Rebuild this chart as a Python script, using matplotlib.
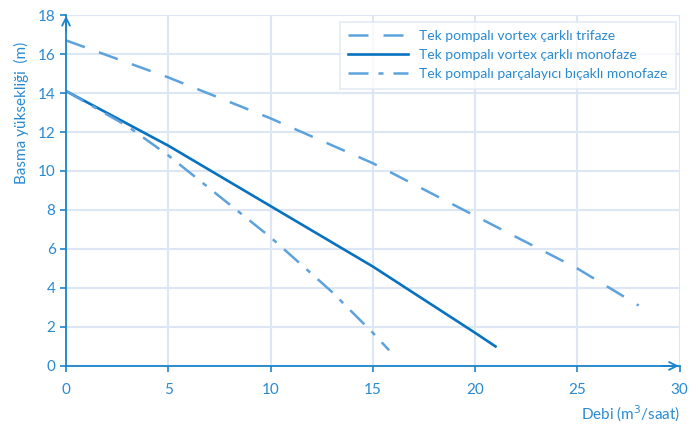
import matplotlib.pyplot as plt

# Values
trifaze_x = [0, 5, 10, 15, 20, 25, 28]
trifaze_y = [16.7, 14.8, 12.7, 10.4, 7.7, 5.0, 3.1]

mono_x = [0, 5, 10, 15, 20, 21]
mono_y = [14.1, 11.3, 8.2, 5.1, 1.7, 1.0]

parca_x = [0, 3, 5, 10, 13, 15, 15.8]
parca_y = [14.1, 12.3, 10.8, 6.6, 3.8, 1.7, 0.8]

labels = ["Tek pompalı vortex çarklı trifaze",
          "Tek pompalı vortex çarklı monofaze",
          "Tek pompalı parçalayıcı bıçaklı monofaze"]

TXT = "#2A8AD0"
AXC = "#1B84CC"
LIGHT = "#5DA2DC"
DARK = "#0872C0"
GRID = "#DCE6F4"

plt.rcParams["font.family"] = ["Lato", "DejaVu Sans"]

fig = plt.figure(figsize=(6.98, 4.30), dpi=100)
ax = fig.add_axes([0.0946, 0.149, 0.879, 0.816])

ax.plot(trifaze_x, trifaze_y, color=LIGHT, lw=1.8, dashes=(8, 6), label=labels[0])
ax.plot(mono_x, mono_y, color=DARK, lw=1.9, label=labels[1])
ax.plot(parca_x, parca_y, color=LIGHT, lw=1.8, dashes=(8, 4, 2, 4), label=labels[2])

ax.set_xlim(0, 30)
ax.set_ylim(0, 18)
ax.set_xticks(range(0, 31, 5))
ax.set_yticks(range(0, 19, 2))
ax.grid(color=GRID, lw=1.5)
ax.set_axisbelow(True)

for s in ["top", "right"]:
    ax.spines[s].set_visible(False)
for s in ["left", "bottom"]:
    ax.spines[s].set_color(AXC)
    ax.spines[s].set_linewidth(1.3)

# open arrow heads at the ends of both axes
ax.annotate("", xy=(0, 18.1), xytext=(0, 17), annotation_clip=False,
            arrowprops=dict(arrowstyle="->", color=AXC, lw=1.3, mutation_scale=14))
ax.annotate("", xy=(30.1, 0), xytext=(29, 0), annotation_clip=False,
            arrowprops=dict(arrowstyle="->", color=AXC, lw=1.3, mutation_scale=14))

ax.tick_params(axis="both", colors=AXC, labelcolor=TXT, labelsize=11, length=4, width=1.2)
ax.tick_params(axis="x", pad=8)

ax.set_ylabel("Basma yüksekliği  (m)", color=TXT, fontsize=11, labelpad=6)
ax.yaxis.set_label_coords(-0.06, 0.72)
fig.text(0.974, 0.025, "Debi (m$^3$/saat)", color=TXT, fontsize=11, ha="right")

leg = ax.legend(loc="upper right", bbox_to_anchor=(1.005, 1.0), fontsize=10, frameon=True,
                fancybox=False, handlelength=4.3, borderpad=0.6, labelspacing=0.5,
                edgecolor="#DCE6F4")
for t in leg.get_texts():
    t.set_color(TXT)
leg.get_frame().set_linewidth(1.2)

fig.savefig("out.png", dpi=100)
